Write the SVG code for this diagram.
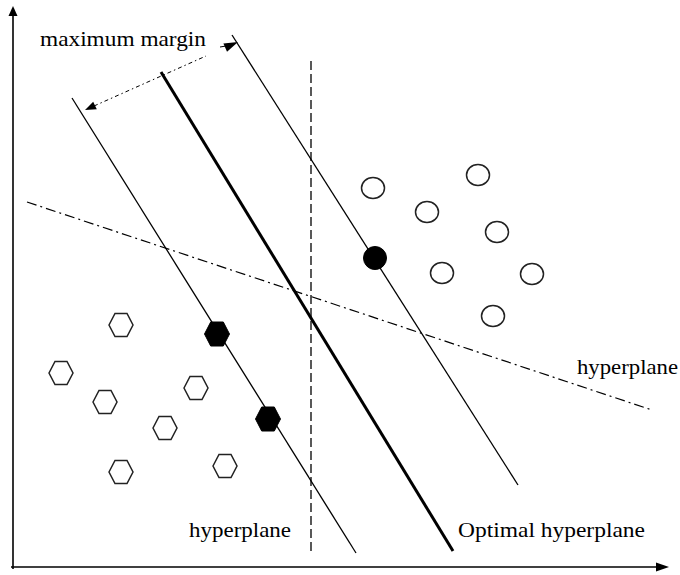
<svg xmlns="http://www.w3.org/2000/svg" width="680" height="575" viewBox="0 0 680 575">
<style>
.lbl{font-family:"Liberation Serif","DejaVu Serif",serif;font-size:21px;fill:#000}
.thin{stroke:#000;stroke-width:1.3;fill:none}
.open{fill:#fff;stroke:#222;stroke-width:1.5}
.full{fill:#000;stroke:#000;stroke-width:1}
</style>
<defs>
<polygon id="hex" points="-12,0 -6,-11.5 6,-11.5 12,0 6,11.5 -6,11.5"/>
<polygon id="hexF" points="-12.5,0 -6.3,-12 6.3,-12 12.5,0 6.3,12 -6.3,12"/>
</defs>
<rect width="680" height="575" fill="#fff"/>
<g id="connectors">
<line id="axis-y" x1="13" y1="14" x2="13" y2="569" stroke="#000" stroke-width="1.6"/>
<polygon points="13,6 8.5,16 17.5,16" fill="#000"/>
<line id="axis-x" x1="11" y1="567" x2="658" y2="567" stroke="#000" stroke-width="1.6"/>
<polygon points="669,567 656,562.5 656,571.5" fill="#000"/>
<line id="margin-left" class="thin" x1="72" y1="98" x2="356" y2="553"/>
<line id="optimal" x1="161" y1="72" x2="453" y2="551" stroke="#000" stroke-width="3"/>
<line id="margin-right" class="thin" x1="232" y1="35" x2="518" y2="485"/>
<line id="vertical-hyperplane" x1="311" y1="61" x2="311" y2="551" stroke="#000" stroke-width="1.3" stroke-dasharray="9 4"/>
<line id="dashdot-hyperplane" x1="27" y1="202" x2="652" y2="410" stroke="#000" stroke-width="1.2" stroke-dasharray="10 4 2 4"/>
<line id="margin-arrow" x1="94" y1="106" x2="206" y2="56" stroke="#000" stroke-width="1" stroke-dasharray="4 3 1.5 3"/>
<polygon points="85,110 96.8,109.3 93.2,101.7" fill="#000"/>
<line x1="220" y1="47" x2="226" y2="46" stroke="#000" stroke-width="1"/>
<polygon points="238,42 223.4,43.6 227,51.8" fill="#000"/>
</g>
<g id="circles">
<ellipse class="open" cx="373" cy="188" rx="11.5" ry="10.5"/>
<ellipse class="open" cx="478" cy="175" rx="11.5" ry="10.5"/>
<ellipse class="open" cx="427" cy="212" rx="11.5" ry="10.5"/>
<ellipse class="open" cx="497" cy="232" rx="11.5" ry="10.5"/>
<ellipse class="open" cx="442" cy="273" rx="11.5" ry="10.5"/>
<ellipse class="open" cx="532" cy="274" rx="11.5" ry="10.5"/>
<ellipse class="open" cx="493" cy="316" rx="11.5" ry="10.5"/>
<ellipse class="full" cx="375" cy="258" rx="11.5" ry="11.5"/>
</g>
<g id="hexagons">
<use href="#hex" class="open" x="121" y="325"/>
<use href="#hex" class="open" x="61" y="373"/>
<use href="#hex" class="open" x="105" y="402"/>
<use href="#hex" class="open" x="196" y="388"/>
<use href="#hex" class="open" x="165" y="428"/>
<use href="#hex" class="open" x="121" y="472"/>
<use href="#hex" class="open" x="225" y="466"/>
<use href="#hexF" class="full" x="217" y="334"/>
<use href="#hexF" class="full" x="268" y="419"/>
</g>
<g id="labels">
<text id="label-margin" class="lbl" x="40" y="46" textLength="166" lengthAdjust="spacingAndGlyphs">maximum margin</text>
<text id="label-hyperplane-right" class="lbl" x="577" y="374" textLength="101" lengthAdjust="spacingAndGlyphs">hyperplane</text>
<text id="label-hyperplane-bottom" class="lbl" x="189" y="537" textLength="102" lengthAdjust="spacingAndGlyphs">hyperplane</text>
<text id="label-optimal" class="lbl" x="458" y="537" textLength="187" lengthAdjust="spacingAndGlyphs">Optimal hyperplane</text>
</g>
</svg>
